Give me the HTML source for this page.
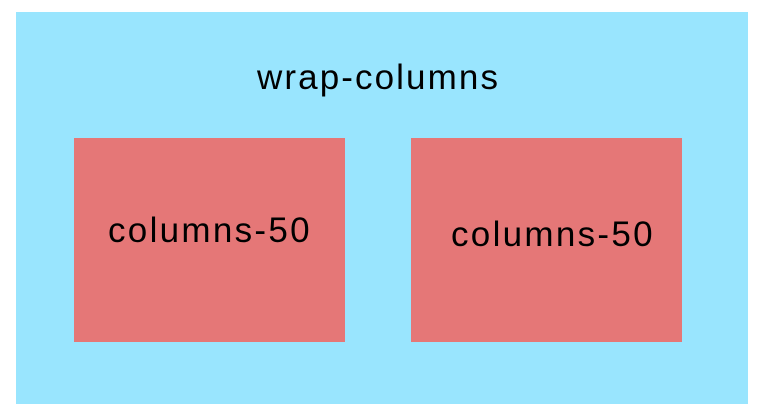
<!DOCTYPE html>
<html><head><meta charset="utf-8"><style>
body{margin:0;width:763px;height:416px;background:#fff;position:relative;overflow:hidden;font-family:"Liberation Sans",sans-serif;}
#wrap{position:absolute;left:16px;top:12px;width:732px;height:392px;background:#99e5fe;}
.t{position:absolute;color:#000;white-space:nowrap;line-height:1;}
.col{position:absolute;top:138px;width:271px;height:204px;background:#e57777;}
</style></head><body>
<div id="wrap">
<div class="t" style="left:241px;top:48px;font-size:35px;letter-spacing:2.1px;">wrap-columns</div>
</div>
<div class="col" style="left:74px">
<div class="t" style="left:34px;top:75px;font-size:35px;letter-spacing:2.3px;">columns-50</div>
</div>
<div class="col" style="left:411px">
<div class="t" style="left:40px;top:79px;font-size:35px;letter-spacing:2.3px;">columns-50</div>
</div>
</body></html>
